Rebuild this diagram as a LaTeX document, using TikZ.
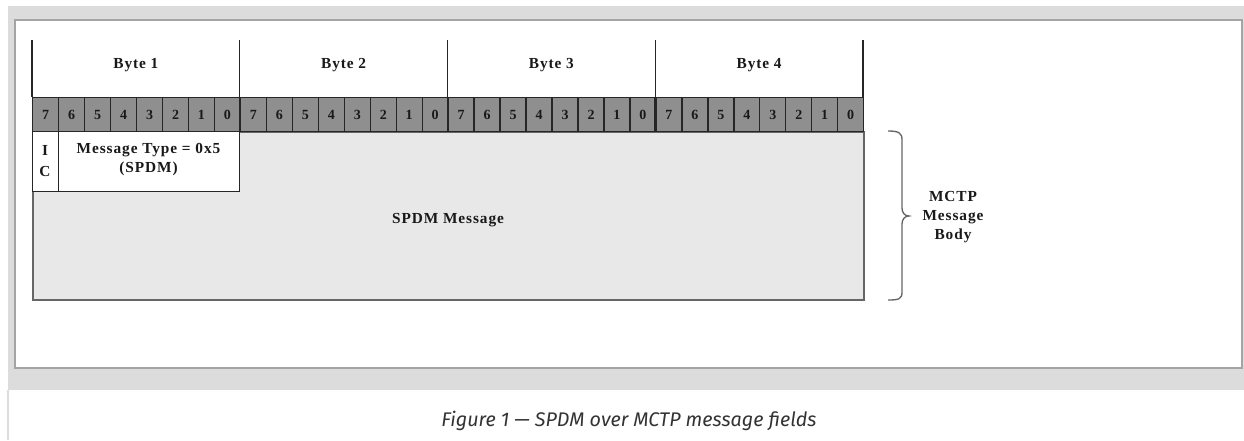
\documentclass[tikz,border=0pt]{standalone}
\usepackage{fontspec}
\setmainfont{Liberation Serif}[LetterSpace=6]
\newfontfamily\capfont{Fira Sans}
\definecolor{bandgrey}{HTML}{DCDCDC}
\definecolor{framegrey}{HTML}{A4A4A4}
\definecolor{bodygrey}{HTML}{E8E8E8}
\definecolor{bitgrey}{HTML}{8F8F8F}
\definecolor{edgegrey}{HTML}{666666}
\definecolor{captext}{HTML}{333333}
\begin{document}
\begin{tikzpicture}[x=0.75pt,y=-0.75pt,
  lbl/.style={font=\bfseries\fontsize{11.5}{13}\selectfont, text=black!90, inner sep=0pt, align=center},
  bitlbl/.style={font=\bfseries\fontsize{10.5}{11}\selectfont, text=black!90, inner sep=0pt},
  bitcell/.style={draw=black!85, fill=bitgrey, line width=1pt, minimum width=25.97*0.75pt, minimum height=34*0.75pt, inner sep=0pt, anchor=north west},
  whitebox/.style={draw=black!85, fill=white, line width=1pt, inner sep=0pt, anchor=north west},
  byteline/.style={draw=black!85, line width=1pt},
  brace/.style={draw=edgegrey, line width=1pt}]
\useasboundingbox (0,0) rectangle (1244,440);
\fill[white] (0,0) rectangle (1244,440);
% outer frame
\fill[bandgrey] (8,6) rectangle (1244,390);
\draw[bandgrey, line width=1.2pt] (8,390) -- (8,440);
\fill[white] (15,20) rectangle (1242,368);
\draw[framegrey, line width=1.6pt] (15,368) -- (15,20) -- (1242,20) -- (1242,368) -- cycle;
% body
\node[draw=edgegrey, fill=bodygrey, line width=1.2pt, anchor=north west, inner sep=0pt,
  minimum width=831*0.75pt, minimum height=168*0.75pt] (body) at (32,131) {};
% byte header lines
\foreach \k in {0,...,4} {
  \coordinate (bt\k) at ({32+207.75*\k},40);
  \coordinate (bb\k) at ({32+207.75*\k},97);
  \draw[byteline] (bt\k) -- (bb\k);
}
\foreach \k/\n in {0/1,1/2,2/3,3/4} {
  \node[lbl] (byte\n) at ({32+207.75*\k+103.9},65) {Byte \n};
}
% bit cells
\foreach \k in {0,...,3} {
  \foreach \b in {0,...,7} {
    \pgfmathtruncatemacro{\lab}{7-\b}
    \node[bitcell] (bit\k-\b) at ({32+207.75*\k+25.97*\b},97) {};
    \node[bitlbl] at (bit\k-\b.center) {\lab};
  }
}
\foreach \k in {1,...,3} {
  \draw[byteline, line width=1.2pt] ({32+207.75*\k},97) -- ({32+207.75*\k},131);
}
% IC and Message Type
\node[whitebox, minimum width=26*0.75pt, minimum height=60*0.75pt] (ic) at (32,131) {};
\node[lbl] at (45,150) {I};
\node[lbl] at (45,171) {C};
\node[whitebox, minimum width=181*0.75pt, minimum height=60*0.75pt] (mtype) at (58,131) {};
\node[lbl] at (148.5,150) {Message Type = 0x5};
\node[lbl] at (148.5,169) {(SPDM)};
\node[lbl] (spdm) at (448,220) {SPDM Message};
% brace
\coordinate (brtop) at (888,131);
\coordinate (brbot) at (888,300);
\coordinate (brtip) at (909,216);
\draw[brace] (brtop) .. controls (899,131) and (902,133) .. (902,140)
  -- (902,208) .. controls (902,213) and (905,216) .. (brtip)
  .. controls (905,216) and (902,219) .. (902,224)
  -- (902,292) .. controls (902,299) and (899,300) .. (brbot);
\node[lbl, font=\bfseries\fontsize{11.5}{14.5}\selectfont] (mctp) at (953,217) {MCTP\\Message\\Body};
% caption
\node[font=\capfont\itshape\fontsize{14.8}{17}\selectfont, text=captext, inner sep=0pt] (cap) at (629,421) {Figure 1 — SPDM over MCTP message fields};
\end{tikzpicture}
\end{document}
